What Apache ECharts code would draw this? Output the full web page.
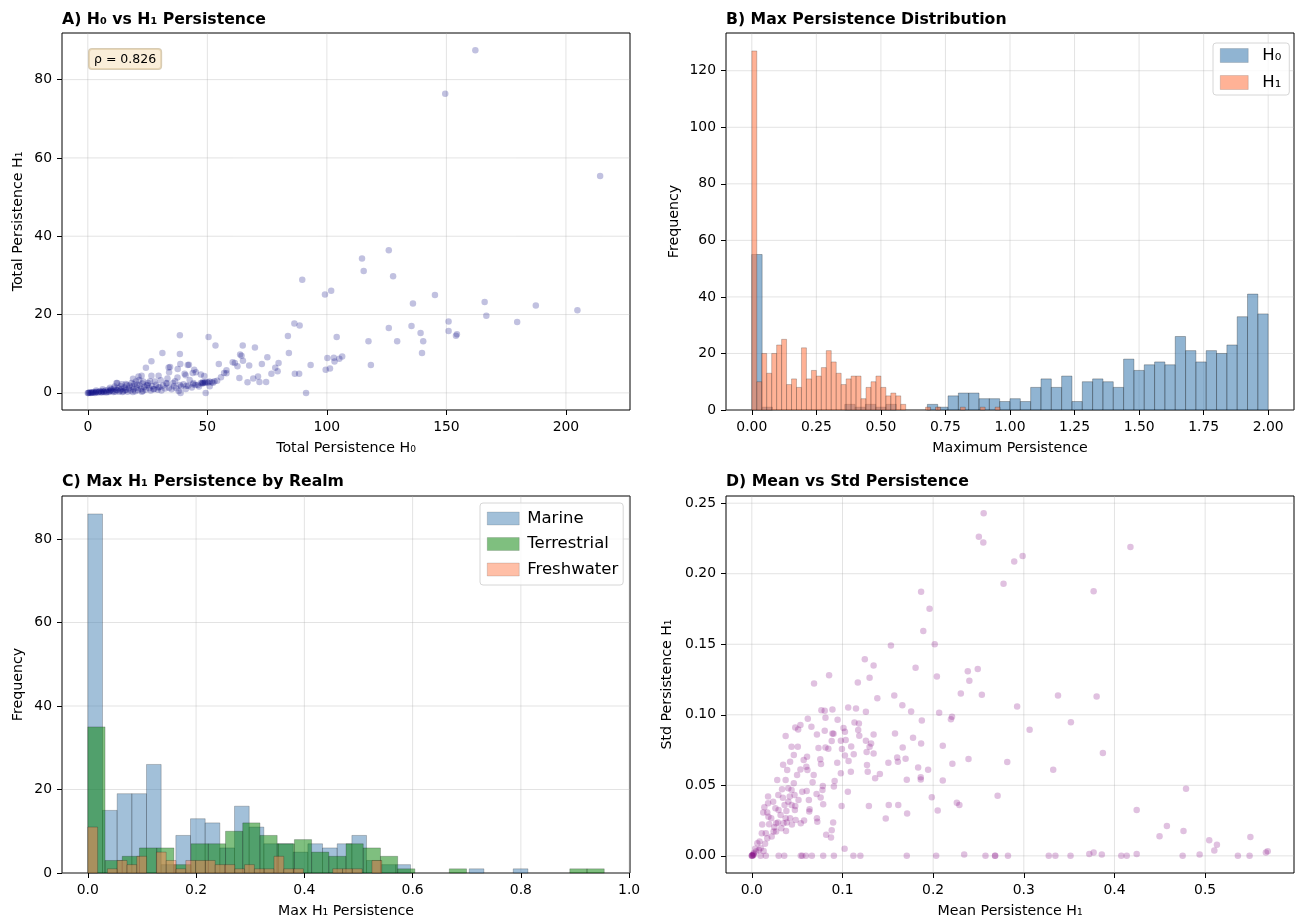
<!DOCTYPE html>
<html><head><meta charset="utf-8">
<script src="https://cdn.jsdelivr.net/npm/echarts@6/dist/echarts.min.js"></script>
<style>html,body{margin:0;padding:0;background:#fff}#c{width:1297px;height:920px}</style>
</head><body><div id="c"></div><script>
const FONT = 'DejaVu Sans';

// ---------- Panel A: H0 vs H1 total persistence ----------
const aTitle = 'A) H₀ vs H₁ Persistence';
const aXName = 'Total Persistence H₀';
const aYName = 'Total Persistence H₁';
const aRho = 'ρ = 0.826';
const aXTicks = [0, 50, 100, 150, 200];
const aYTicks = [0, 20, 40, 60, 80];
const aPoints = [
[162.1,87.5],[149.5,76.4],[214.3,55.4],[125.9,36.4],[114.7,34.3],[115.4,31.1],[127.7,29.8],[89.7,28.9],[99.2,25.1],[101.8,26.1],
[145.2,25.0],[136.0,22.8],[166.0,23.2],[187.4,22.3],[204.8,21.1],[166.7,19.7],[179.6,18.1],[150.9,18.2],[150.9,15.8],[154.4,15.0],
[154.0,14.6],[125.9,16.6],[135.4,17.1],[139.2,15.3],[140.3,13.2],[139.8,10.2],[129.4,13.2],[117.4,13.2],[118.4,7.1],[86.4,17.7],
[88.6,17.2],[83.7,14.5],[84.1,10.2],[104.1,14.3],[93.2,7.1],[86.6,4.9],[88.4,4.9],[91.3,0],[100.2,8.9],[102.9,9.0],
[106.4,9.3],[105.2,8.7],[103.2,8.0],[99.5,5.9],[101.3,6.2],[38.5,14.7],[50.5,14.3],[53.4,12.1],[64.8,12.1],[69.9,11.6],
[31.2,10.2],[38.5,9.9],[26.6,8.1],[24.3,6.4],[33.8,6.5],[38.7,7.4],[41.8,7.1],[37.6,6.1],[44.5,5.9],[43.9,5.1],
[40.5,4.9],[47.3,4.7],[54.8,7.4],[60.6,7.8],[63.7,9.8],[64.9,8.2],[62.6,6.8],[67.5,7.0],[72.8,7.4],[75.1,9.1],
[79.8,7.6],[78.4,6.4],[79.4,5.5],[76.8,4.9],[71.2,4.2],[69.2,3.7],[71.8,2.8],[74.6,2.8],[66.8,2.7],[63.4,3.8],
[58.0,5.8],[57.0,5.1],[55.7,4.0],[53.0,3.0],[51.0,1.7],[49.3,0],[48.8,2.5],[47.3,2.5],[44.2,2.5],[34.4,6.6],
[42.3,7.2],[45.2,5.3],[48.7,4.3],[29.6,4.4],[22.5,4.4],[26.6,4.4],[33.3,3.7],[37.5,3.9],[40.9,4.5],[34.0,5.3],
[12.3,2.5],[14.2,2.2],[15.9,2.3],[18.3,2.5],[20.1,2.9],[21.5,3.3],[23.2,2.9],[25.2,2.5],[28.0,2.9],[32.9,2.5],
[35.7,2.5],[38.5,2.0],[41.3,1.8],[44.1,2.2],[48.2,2.5],[50.3,2.6],[52.4,2.6],[54.1,3.1],[58.0,5.0],[61.5,7.6],
[64.3,9.5],[12.0,2.5],[18.9,3.6],[21.2,4.2],[49.0,2.7],[49.8,2.8],[50.9,2.9],[51.8,2.7],[47.8,2.4],[46.0,2.0],
[0,0],[0.2,0],[0.5,0.05],[0.8,0.1],[1.2,0],[1.5,0.1],[1.8,0.1],[2.2,0.05],[2.5,0.2],[3,0],[3.3,0.15],[3.6,0.3],[4.2,0.1],[4.6,0.2],
[5,0.4],[5.5,0.2],[5.8,0.1],[6.1,0.5],[6.5,0.3],[6.8,0.2],[7.4,0.6],[7.7,0.1],[8,0.3],[8.5,0.8],[8.8,0.2],[9.1,0.4],[9.5,0.6],[9.8,0.9],
[10.4,0.5],[10.7,0.2],[11,1.1],[11.5,0.3],[11.8,0.8],[12.2,0.7],[12.8,1.2],[13.1,0.3],[13.5,0.6],[14.1,1.0],[14.5,0.2],[14.8,0.4],
[15.3,1.4],[15.6,0.7],[16,0.8],[16.6,0.3],[17.2,1.1],[17.5,1.9],[17.9,0.6],[18.5,1.6],[18.8,0.2],[19.1,0.9],[19.8,0.4],[20.4,1.3],
[20.7,2.1],[21,0.7],[21.7,1.8],[22.3,1.0],[22.6,0.3],[23,0.5],[23.6,1.5],[24.2,0.8],[24.6,1.9],[25,2.0],[25.7,1.2],[26.3,0.6],
[27,1.7],[27.4,0.9],[27.8,1.0],[28.5,2.1],[29.2,0.8],[29.6,1.4],[30,1.5],[30.8,0.6],[31.5,1.9],[32.3,1.1],[33,2.4],[34,1.3],
[35,0.9],[36,1.7],[37,1.2],[38,0.5],[38.8,0],[39,1.6],[40,2.2],[41,1.0],[42,1.8],[43.5,1.4],[45,2.0],[46.5,1.6],[48,2.7],
[3.5,0.6],[6.2,0.9],[9.3,1.3],[11.2,1.6],[13.8,1.7],[16.3,2.0],[19.5,2.2],[22.8,2.4],[26.0,3.0],[30.5,3.2],[36.5,3.0],[42.6,3.3]
];

// ---------- Panel B: max persistence histograms ----------
const bTitle = 'B) Max Persistence Distribution';
const bXName = 'Maximum Persistence';
const bYName = 'Frequency';
const bXTicks = [0, 0.25, 0.5, 0.75, 1.0, 1.25, 1.5, 1.75, 2.0];
const bYTicks = [0, 20, 40, 60, 80, 100, 120];
const h0Range = [0, 2.0];
const h0Counts = [55,1,0,0,0,0,0,0,0,2,1,2,1,2,0,0,0,2,1,5,6,6,4,4,3,4,3,8,11,8,12,3,10,11,10,8,18,14,16,17,16,26,21,17,21,20,23,33,41,34];
const h1Range = [0, 0.9615];
const h1Counts = [127,10,20,13,20,23,25,9,11,8,22,11,14,12,15,21,17,13,9,11,12,12,4,8,10,12,8,5,6,5,2,0,0,0,0,1,0,1,0,0,0,0,1,0,0,0,1,0,0,1];

// ---------- Panel C: max H1 persistence by realm ----------
const cTitle = 'C) Max H₁ Persistence by Realm';
const cXName = 'Max H₁ Persistence';
const cYName = 'Frequency';
const cXTicks = [0, 0.2, 0.4, 0.6, 0.8, 1.0];
const cYTicks = [0, 20, 40, 60, 80];
const marineRange = [0, 0.813];
const marineCounts = [86,15,19,19,26,2,9,13,12,6,16,11,7,7,5,7,6,7,9,3,2,2,0,0,0,0,1,0,0,1];
const terrRange = [0, 0.954];
const terrCounts = [35,3,4,6,6,2,7,7,10,12,9,7,8,5,4,7,6,4,1,0,0,1,0,0,0,0,0,0,1,1];
const freshRange = [0, 0.543];
const freshCounts = [11,0,1,3,2,4,0,5,3,1,3,3,3,2,2,1,2,1,1,4,1,1,0,0,0,1,1,1,0,3];

// ---------- Panel D: mean vs std persistence ----------
const dTitle = 'D) Mean vs Std Persistence';
const dXName = 'Mean Persistence H₁';
const dYName = 'Std Persistence H₁';
const dXTicks = [0, 0.1, 0.2, 0.3, 0.4, 0.5];
const dYTicks = [0, 0.05, 0.10, 0.15, 0.20, 0.25];
const dPoints = [
[0.2557,0.2429],[0.2504,0.2262],[0.2553,0.2222],[0.4176,0.2189],[0.2987,0.2125],[0.2894,0.2087],[0.2776,0.1929],[0.377,0.1875],[0.1867,0.1873],[0.196,0.1752],
[0.1891,0.1594],[0.1534,0.1491],[0.2017,0.15],[0.1246,0.1394],[0.1343,0.1349],[0.1806,0.1333],[0.2382,0.1309],[0.2492,0.1325],[0.2399,0.1241],[0.2041,0.1271],
[0.1169,0.1229],[0.1299,0.1262],[0.0686,0.1222],[0.0852,0.1281],[0.1384,0.1118],[0.1571,0.1137],[0.2305,0.1151],[0.2537,0.1142],[0.3377,0.1137],[0.3803,0.113],
[0.166,0.1068],[0.1757,0.1024],[0.2066,0.1014],[0.2926,0.1059],[0.1875,0.096],[0.2196,0.0969],[0.2208,0.0986],[0.3519,0.0948],[0.3064,0.0894],[0.1579,0.0868],
[0.1778,0.0837],[0.1867,0.0797],[0.1664,0.0769],[0.2106,0.0781],[0.3872,0.0729],[0.239,0.0686],[0.2817,0.0665],[0.1506,0.066],[0.1603,0.0698],[0.1611,0.0667],
[0.1696,0.0689],[0.1834,0.0627],[0.1944,0.0611],[0.2212,0.0653],[0.3324,0.0611],[0.1863,0.0557],[0.1863,0.0542],[0.1709,0.054],[0.2106,0.0535],[0.1412,0.058],
[0.136,0.055],[0.4789,0.0476],[0.1985,0.0415],[0.2711,0.0427],[0.151,0.0361],[0.1615,0.0361],[0.2261,0.0377],[0.2289,0.0361],[0.205,0.0321],[0.4245,0.0325],
[0.1713,0.03],[0.1477,0.0264],[0.1291,0.0354],[0.099,0.0354],[0.1059,0.0455],[0.4578,0.0212],[0.4761,0.0177],[0.4497,0.0139],[0.5499,0.0134],[0.5045,0.0111],
[0.513,0.0078],[0.5101,0.0038],[0.569,0.0033],[0.567,0.0024],[0.4939,0.0009],[0.4245,0.0014],[0.386,0.0009],[0.377,0.0024],[0.3722,0.0014],[0.2342,0.0009],
[0.1023,0.005],[0.5361,0],[0.549,0],[0.4752,0],[0.4135,0],[0.4075,0],[0.3515,0],[0.3348,0],[0.3275,0],[0.2825,0],
[0.2683,0],[0.2683,0],[0.2577,0],[0.2033,0],[0.1709,0],[0.1197,0],[0.112,0],[0.0905,0],[0.0787,0],[0.0662,0],
[0.0596,0],[0.0556,0],[0.054,0],[0.0357,0],[0.0296,0],[0.0154,0],[0.0097,0],[0,0],[0,0],[0.001,0],[0.002,0.001],
[0.0767,0.1033],[0.0804,0.1028],[0.0889,0.1038],[0.0812,0.0979],[0.0946,0.0965],[0.0617,0.0972],[0.0536,0.0927],[0.0479,0.091],[0.0511,0.0896],[0.0373,0.0849],
[0.0657,0.0915],[0.0718,0.0861],[0.0804,0.0887],[0.0901,0.0866],[0.1011,0.0906],[0.1027,0.088],[0.1132,0.0946],[0.1063,0.1052],[0.1149,0.1045],[0.1258,0.1021],
[0.1181,0.0939],[0.1173,0.0892],[0.1185,0.0851],[0.1343,0.0861],[0.1258,0.0816],[0.1315,0.0797],[0.1299,0.0774],[0.1266,0.0736],[0.1343,0.0726],[0.1096,0.0776],
[0.1124,0.072],[0.1027,0.0712],[0.0994,0.0757],[0.0982,0.0816],[0.1035,0.0821],[0.0881,0.0814],[0.0889,0.0868],[0.0844,0.0759],[0.0735,0.0764],[0.0812,0.0769],
[0.0942,0.066],[0.1067,0.0672],[0.1092,0.0597],[0.0982,0.0585],[0.0913,0.0531],[0.127,0.0644],[0.1278,0.0597],[0.0905,0.0491],[0.0897,0.0236],[0.0881,0.0182],
[0.082,0.0149],[0.0873,0.013],[0.0718,0.0267],[0.0722,0.0241],[0.0787,0.0366],[0.0759,0.0413],[0.0779,0.0467],[0.0783,0.0495],[0.0763,0.0651],[0.0755,0.0684],
[0.0682,0.0573],[0.0714,0.0439],[0.0637,0.033],[0.0629,0.0396],[0.0605,0.046],[0.067,0.0521],[0.0601,0.0632],[0.0609,0.0703],[0.0572,0.0679],[0.0536,0.0613],
[0.0613,0.0608],[0.0463,0.0715],[0.0438,0.0774],[0.0507,0.0774],[0.0422,0.0667],[0.0345,0.0646],[0.039,0.0608],[0.0373,0.0538],[0.028,0.0538],[0.0499,0.0573],
[0.0463,0.0514],[0.0438,0.0467],[0.0402,0.0479],[0.0556,0.0455],[0.0515,0.0396],[0.0471,0.0432],[0.0479,0.0354],[0.0475,0.0325],[0.0483,0.0255],[0.0442,0.0222],
[0.0377,0.0177],[0.054,0.0231],[0.0402,0.0384],[0.0361,0.0361],[0.0381,0.0318],[0.0373,0.0267],[0.0317,0.029],[0.0288,0.0236],[0.0325,0.0196],[0.0268,0.0172],
[0.0248,0.0203],[0.0219,0.0137],[0.0183,0.0278],[0.0191,0.0224],[0.0154,0.016],[0.0114,0.0222],[0.011,0.016],[0.0179,0.042],[0.0179,0.0373],[0.0235,0.0384],
[0.026,0.0337],[0.0292,0.0432],[0.0333,0.0472],[0.0138,0.0344],[0.0126,0.0307],[0.017,0.0307],[0.0085,0.0101],[0.0061,0.009],[0.0037,0.005],[0.0146,0.0085],
[0.017,0.0125],[0.0077,0.0042],[0.0045,0.0031],[0.002,0.0019],[0.0004,0.0005],[0.0016,0.0007],[0.0097,0.0054],[0.013,0.0035],[0.024,0.0172],[0.0268,0.0231],
[0.0349,0.0231],[0.0386,0.0236],[0.0422,0.0267],[0.0438,0.0361],[0.0418,0.042],[0.0576,0.025],[0.0633,0.0314],[0.0214,0.0266],[0.0295,0.0325],[0.0342,0.0412]
];

// ---------- helpers ----------
function histData(range, counts) {
  const w = (range[1] - range[0]) / counts.length;
  const out = [];
  counts.forEach((c, i) => { if (c > 0) out.push([range[0] + i * w, range[0] + (i + 1) * w, c]); });
  return out;
}
function histSeries(name, idx, range, counts, fill, edge) {
  return {
    type: 'custom', name, xAxisIndex: idx, yAxisIndex: idx, z: 2,
    itemStyle: { color: fill, borderColor: edge, borderWidth: 0.5 },
    encode: { x: [0, 1], y: 2 },
    data: histData(range, counts),
    renderItem(params, api) {
      const p0 = api.coord([api.value(0), api.value(2)]);
      const p1 = api.coord([api.value(1), 0]);
      return { type: 'rect', shape: { x: p0[0], y: p0[1], width: p1[0] - p0[0], height: p1[1] - p0[1] },
        style: { fill: fill, stroke: edge, lineWidth: 0.6 } };
    }
  };
}
function gridSeries(idx, xt, yt) {
  const data = xt.map(v => [v, 0]).concat(yt.map(v => [v, 1]));
  return {
    type: 'custom', xAxisIndex: idx, yAxisIndex: idx, z: 0, silent: true, data,
    encode: { x: -1, y: -1 },
    renderItem(params, api) {
      const cs = params.coordSys; const v = api.value(0); const d = api.value(1);
      let shape;
      if (d === 0) { const x = api.coord([v, 0])[0]; shape = { x1: x, y1: cs.y, x2: x, y2: cs.y + cs.height }; }
      else { const y = api.coord([0, v])[1]; shape = { x1: cs.x, y1: y, x2: cs.x + cs.width, y2: y }; }
      return { type: 'line', shape, style: { stroke: 'rgba(176,176,176,0.35)', lineWidth: 1 } };
    }
  };
}
function xAxis(idx, min, max, ticks, fmt, name) {
  return {
    type: 'value', gridIndex: idx, min, max, name, nameLocation: 'middle', nameGap: 31,
    nameTextStyle: { fontFamily: FONT, fontSize: 14.2, color: '#000' },
    axisLine: { show: false, onZero: false }, splitLine: { show: false },
    axisTick: { show: true, customValues: ticks, length: 5, lineStyle: { color: '#000', width: 1 } },
    axisLabel: { customValues: ticks, formatter: fmt, margin: 10, fontFamily: FONT, fontSize: 13.9, color: '#000' }
  };
}
function yAxis(idx, min, max, ticks, fmt, name, gap) {
  return {
    type: 'value', gridIndex: idx, min, max, name, nameLocation: 'middle', nameGap: gap,
    nameTextStyle: { fontFamily: FONT, fontSize: 14.2, color: '#000' },
    axisLine: { show: false, onZero: false }, splitLine: { show: false },
    axisTick: { show: true, customValues: ticks, length: 5, lineStyle: { color: '#000', width: 1 } },
    axisLabel: { customValues: ticks, formatter: fmt, margin: 10, fontFamily: FONT, fontSize: 13.9, color: '#000' }
  };
}
const fInt = v => String(Math.round(v));
const f1 = v => v.toFixed(1);
const f2 = v => v.toFixed(2);

const gridBase = { show: true, borderColor: '#000', borderWidth: 1, backgroundColor: 'transparent', width: 568, height: 377 };
const titleStyle = { font: 'bold 15.7px "DejaVu Sans"', fill: '#000' };
const legendBase = { orient: 'vertical', icon: 'rect', backgroundColor: 'rgba(255,255,255,0.8)', borderColor: '#d6d6d6',
  borderWidth: 1, borderRadius: 3, itemStyle: { borderWidth: 0.5, borderColor: 'rgba(0,0,0,0.25)' } };

const option = {
  animation: false,
  backgroundColor: '#fff',
  grid: [
    Object.assign({ left: 62, top: 33 }, gridBase),
    Object.assign({ left: 726, top: 33 }, gridBase),
    Object.assign({ left: 62, top: 496 }, gridBase),
    Object.assign({ left: 726, top: 496 }, gridBase)
  ],
  xAxis: [
    xAxis(0, -10.8, 226.8, aXTicks, fInt, aXName),
    xAxis(1, -0.1, 2.1, bXTicks, f2, bXName),
    xAxis(2, -0.0477, 1.0016, cXTicks, f1, cXName),
    xAxis(3, -0.0285, 0.598, dXTicks, f1, dXName)
  ],
  yAxis: [
    yAxis(0, -4.37, 91.9, aYTicks, fInt, aYName, 37),
    yAxis(1, 0, 133.35, bYTicks, fInt, bYName, 45),
    yAxis(2, 0, 90.3, cYTicks, fInt, cYName, 37),
    yAxis(3, -0.01215, 0.2551, dYTicks, f2, dYName, 52)
  ],
  legend: [
    Object.assign({ data: ['H₀', 'H₁'], left: 1213, top: 43, itemWidth: 28, itemHeight: 14, itemGap: 10, padding: [4, 8, 4, 7],
      textStyle: { fontFamily: FONT, fontSize: 16.5, lineHeight: 14, color: '#000', padding: [0, 0, 0, 9] } }, legendBase),
    Object.assign({ data: ['Marine', 'Terrestrial', 'Freshwater'], left: 480, top: 503, itemWidth: 32, itemHeight: 13, itemGap: 8.5, padding: [7, 5, 7, 7],
      textStyle: { fontFamily: FONT, fontSize: 16.5, lineHeight: 14, color: '#000', padding: [0, 0, 0, 3] } }, legendBase)
  ],
  graphic: [
    { type: 'text', left: 62, top: 12, style: Object.assign({ text: aTitle }, titleStyle) },
    { type: 'text', left: 726, top: 12, style: Object.assign({ text: bTitle }, titleStyle) },
    { type: 'text', left: 62, top: 474, style: Object.assign({ text: cTitle }, titleStyle) },
    { type: 'text', left: 726, top: 474, style: Object.assign({ text: dTitle }, titleStyle) },
    { type: 'text', left: 88, top: 48, z: 100, style: { text: aRho, font: '12.5px "DejaVu Sans"', fill: '#000',
      backgroundColor: 'rgba(245,222,179,0.5)', borderColor: 'rgba(190,170,130,0.6)', borderWidth: 1, borderRadius: 3, padding: [4, 5, 3, 5] } }
  ],
  series: [
    gridSeries(0, aXTicks, aYTicks),
    gridSeries(1, bXTicks, bYTicks),
    gridSeries(2, cXTicks, cYTicks),
    gridSeries(3, dXTicks, dYTicks),
    { type: 'scatter', name: 'A', xAxisIndex: 0, yAxisIndex: 0, z: 3, symbolSize: 6.5, data: aPoints,
      itemStyle: { color: 'rgba(0,0,128,0.3)', borderWidth: 0 } },
    histSeries('H₀', 1, h0Range, h0Counts, 'rgba(70,130,180,0.6)', 'rgba(0,0,0,0.45)'),
    histSeries('H₁', 1, h1Range, h1Counts, 'rgba(255,127,80,0.6)', 'rgba(0,0,0,0.35)'),
    histSeries('Marine', 2, marineRange, marineCounts, 'rgba(70,130,180,0.5)', 'rgba(0,0,0,0.35)'),
    histSeries('Terrestrial', 2, terrRange, terrCounts, 'rgba(0,128,0,0.5)', 'rgba(0,0,0,0.35)'),
    histSeries('Freshwater', 2, freshRange, freshCounts, 'rgba(255,127,80,0.5)', 'rgba(0,0,0,0.35)'),
    { type: 'scatter', name: 'D', xAxisIndex: 3, yAxisIndex: 3, z: 3, symbolSize: 6.5, data: dPoints,
      itemStyle: { color: 'rgba(128,0,128,0.3)', borderWidth: 0 } }
  ]
};
const chart = echarts.init(document.getElementById('c'), null, { renderer: 'canvas' });
chart.setOption(option);
</script></body></html>
